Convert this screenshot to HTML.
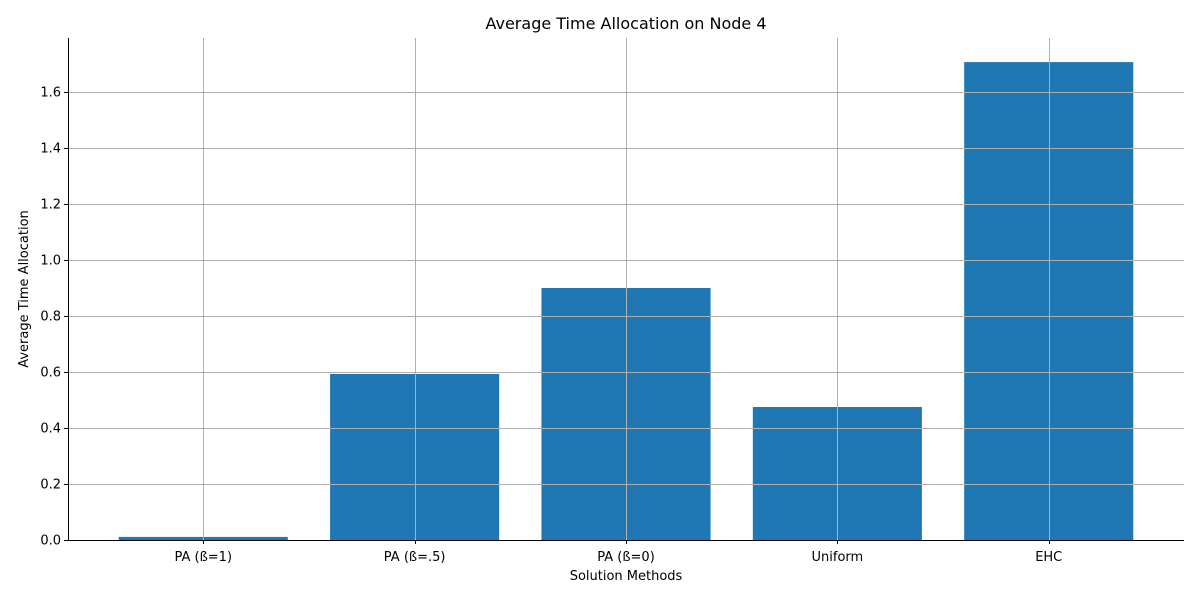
<!DOCTYPE html>
<html><head><meta charset="utf-8"><style>
body{margin:0;background:#fff;}
svg text{font-family:"DejaVu Sans","Liberation Sans",sans-serif;fill:#000;}
</style></head><body>
<svg id="chart" width="1200" height="600" xmlns="http://www.w3.org/2000/svg">
<rect width="1200" height="600" fill="#fff"/>
<text x="626" y="29" font-size="16" text-anchor="middle">Average Time Allocation on Node 4</text>
<g id="bars"></g><g id="grid"></g><g id="axes"></g>
<text x="626" y="580" font-size="13" text-anchor="middle">Solution Methods</text>
<text transform="translate(28,289) rotate(-90)" font-size="13" text-anchor="middle">Average Time Allocation</text>
</svg>
<script>
const categories=["PA (ß=1)","PA (ß=.5)","PA (ß=0)","Uniform","EHC"];
const values=[0.011,0.593,0.900,0.475,1.707];
const yTicks=[0,0.2,0.4,0.6,0.8,1.0,1.2,1.4,1.6];
const yTickLabels=["0.0","0.2","0.4","0.6","0.8","1.0","1.2","1.4","1.6"];
const L=68,R=1184,T=38,B=540,ymax=1.793;
const NS="http://www.w3.org/2000/svg";
const x=i=>L+(i+0.64)*(R-L)/5.28;
const y=v=>B-v/ymax*(B-T);
const bw=0.8*(R-L)/5.28;
const snap=p=>Math.round(p)+0.5;
function mk(t,a,p){const e=document.createElementNS(NS,t);for(const k in a)e.setAttribute(k,a[k]);p.appendChild(e);return e;}
const bars=document.getElementById('bars'),grid=document.getElementById('grid'),axes=document.getElementById('axes');
values.forEach((v,i)=>{
 const r=mk('rect',{x:x(i)-bw/2,y:y(v),width:bw,height:B-y(v),fill:'#1f77b4'},bars);
 
 
});
categories.forEach((c,i)=>{
 const xs=snap(x(i));
 const g=mk('line',{x1:xs,x2:xs,y1:T,y2:B,stroke:'#b0b0b0','stroke-width':1},grid);
 
 
 mk('line',{x1:xs,x2:xs,y1:B,y2:B+4,stroke:'#000','stroke-width':1},axes);
 const t=mk('text',{x:x(i),y:B+21,'font-size':13,'text-anchor':'middle'},axes);
 t.textContent=c;
 
 
});
yTicks.forEach((v,i)=>{
 const ys=snap(y(v));
 const g=mk('line',{x1:L,x2:R,y1:ys,y2:ys,stroke:'#b0b0b0','stroke-width':1},grid);
 
 
 mk('line',{x1:L-4,x2:L,y1:ys,y2:ys,stroke:'#000','stroke-width':1},axes);
 const t=mk('text',{x:L-7,y:y(v)+4.5,'font-size':13,'text-anchor':'end'},axes);
 t.textContent=yTickLabels[i];
 
 
});
const ax=mk('line',{x1:L+0.5,x2:L+0.5,y1:T,y2:B+0.5,stroke:'#000','stroke-width':1},axes);


const bx=mk('line',{x1:L,x2:R,y1:B+0.5,y2:B+0.5,stroke:'#000','stroke-width':1},axes);


</script>
</body></html>
